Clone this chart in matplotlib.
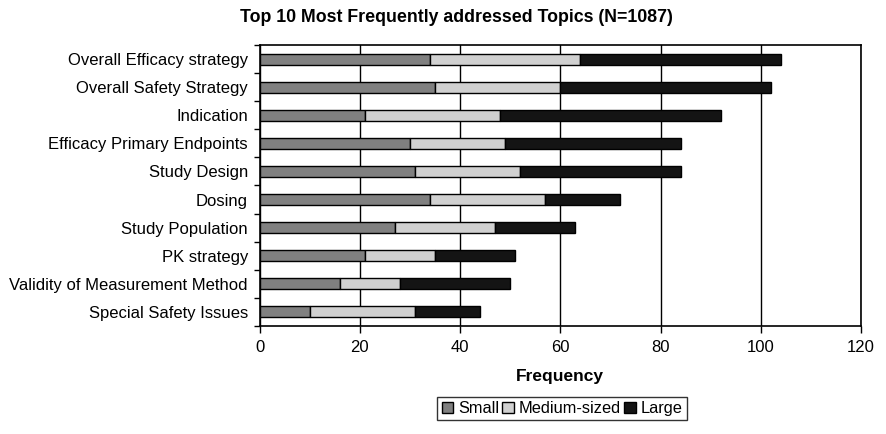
import matplotlib
matplotlib.use("Agg")
import matplotlib.pyplot as plt
import numpy as np

plt.rcParams['font.family'] = ['Liberation Sans', 'DejaVu Sans']

topics = ["Overall Efficacy strategy", "Overall Safety Strategy", "Indication",
          "Efficacy Primary Endpoints", "Study Design", "Dosing", "Study Population",
          "PK strategy", "Validity of Measurement Method", "Special Safety Issues"]
small = [34, 35, 21, 30, 31, 34, 27, 21, 16, 10]
medium = [30, 25, 27, 19, 21, 23, 20, 14, 12, 21]
large = [40, 42, 44, 35, 32, 15, 16, 16, 22, 13]
series_names = ["Small", "Medium-sized", "Large"]
colors = ["#808080", "#d0d0d0", "#141414"]

fig = plt.figure(figsize=(8.87, 4.34), dpi=100)
ax = fig.add_axes([259.7/887, 1-326/434, (861-259.7)/887, (326-45)/434])

y = np.arange(len(topics))
left = np.zeros(len(topics))
for vals, name, c in zip([small, medium, large], series_names, colors):
    ax.barh(y, vals, left=left, height=0.39, color=c, edgecolor="black",
            linewidth=1.0, label=name, zorder=3)
    left += np.array(vals)

ax.set_ylim(len(topics)-0.5, -0.5)
ax.set_xlim(0, 120)
ax.set_xticks(range(0, 121, 20))
ax.xaxis.grid(True, color="black", linewidth=1.0, zorder=0)
ax.set_yticks(y)
ax.set_yticklabels(topics, fontsize=12)
ax.set_yticks(np.arange(-0.5, len(topics), 1), minor=True)
ax.tick_params(axis='y', which='major', length=0, pad=8.5)
ax.tick_params(axis='y', which='minor', length=4, width=1, direction='out')
ax.tick_params(axis='x', length=5, width=1, direction='out', labelsize=12, pad=5)
for s in ax.spines.values():
    s.set_linewidth(1.2)
    s.set_color("black")

ax.set_xlabel("Frequency", fontsize=12.5, fontweight='bold', labelpad=10)
fig.text(456/887, 1-18/434, "Top 10 Most Frequently addressed Topics (N=1087)",
         ha='center', va='center', fontsize=12.8, fontweight='bold')

leg = fig.legend(loc='center', bbox_to_anchor=(562/887, 1-408.5/434), ncol=3,
                 fontsize=11.8, frameon=True, fancybox=False, edgecolor='black',
                 handlelength=0.7, handleheight=0.7, handletextpad=0.3,
                 columnspacing=0.2, borderpad=0.25, borderaxespad=0)
leg.get_frame().set_linewidth(1.0)

fig.savefig("out.png", dpi=100)
